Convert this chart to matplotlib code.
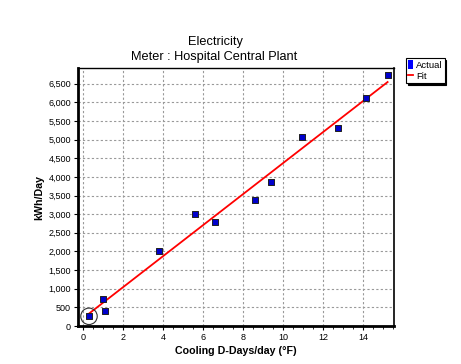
import numpy as np
import matplotlib
matplotlib.use("Agg")
import matplotlib.pyplot as plt
from matplotlib.ticker import MultipleLocator, FuncFormatter
from matplotlib.lines import Line2D
from matplotlib.patches import Rectangle

plt.rcParams['font.family'] = ['Liberation Sans', 'DejaVu Sans']

# Data
cdd = [0.3, 1.02, 1.1, 3.78, 5.6, 6.58, 8.62, 9.42, 10.97, 12.77, 14.14, 15.23]
kwh = [260, 735, 402, 2004, 2996, 2782, 3390, 3873, 5080, 5303, 6125, 6733]
fit_intercept = 208
fit_slope = 416
flagged_index = 0

fig = plt.figure(figsize=(4.61, 3.64), dpi=100)
ax = fig.add_axes([78 / 461, 1 - 326 / 364, 316 / 461, 258 / 364])

x_fit = np.array([min(cdd), max(cdd)])
ax.plot(x_fit, fit_intercept + fit_slope * x_fit, color="#ff0000", lw=1.3,
        zorder=3)
ax.scatter(cdd, kwh, marker="s", s=20, color="#0000cc", edgecolors="#202020",
           linewidths=0.7, zorder=4)
ax.scatter([cdd[flagged_index]], [kwh[flagged_index]], marker="o", s=140,
           facecolors="none", edgecolors="#303030", linewidths=0.8, zorder=5)

ax.set_xlim(-0.25, 15.55)
ax.set_ylim(0, 6920)
ax.xaxis.set_major_locator(MultipleLocator(2))
ax.xaxis.set_minor_locator(MultipleLocator(0.5))
ax.yaxis.set_major_locator(MultipleLocator(500))
ax.yaxis.set_major_formatter(FuncFormatter(lambda v, p: f"{int(v):,}"))

ax.grid(True, which="major", linestyle=(0, (2, 2)), color="#999999", lw=0.8)
ax.tick_params(axis="both", which="major", labelsize=6.5, length=3, width=0.8,
               direction="out", colors="#000000", pad=2)
ax.tick_params(axis="x", which="minor", length=2, width=0.6)

ax.spines["left"].set_linewidth(2)
ax.spines["bottom"].set_linewidth(2)
ax.spines["top"].set_linewidth(1)
ax.spines["right"].set_linewidth(1.2)

ax.set_xlabel("Cooling D-Days/day (°F)", fontsize=7.7, fontweight="bold", labelpad=3)
ax.set_ylabel("kWh/Day", fontsize=7.7, fontweight="bold", labelpad=3)

fig.text(215 / 461, 1 - 42 / 364, "Electricity", ha="center", va="center",
         fontsize=9.2)
fig.text(214 / 461, 1 - 57 / 364, "Meter : Hospital Central Plant",
         ha="center", va="center", fontsize=9.2)

h_actual = Rectangle((0, 0), 1, 1, facecolor="#0000ff", edgecolor="none")
h_fit = Line2D([], [], color="#ff0000", lw=1.3)
leg = fig.legend([h_actual, h_fit], ["Actual", "Fit"], loc="upper left",
                 bbox_to_anchor=(406 / 461, 1 - 58 / 364), fontsize=6.8,
                 frameon=True, fancybox=False,
                 shadow={"color": "black", "alpha": 1, "ox": 1.2, "oy": -1.2},
                 handlelength=0.5, handleheight=1.0,
                 handletextpad=0.3, borderpad=0.25, labelspacing=0.15,
                 borderaxespad=0)
leg.get_frame().set_edgecolor("#000000")
leg.get_frame().set_linewidth(0.8)
# make the legend bar narrow like the original
leg.legend_handles[0].set_width(3)

fig.savefig("out.png", dpi=100)
